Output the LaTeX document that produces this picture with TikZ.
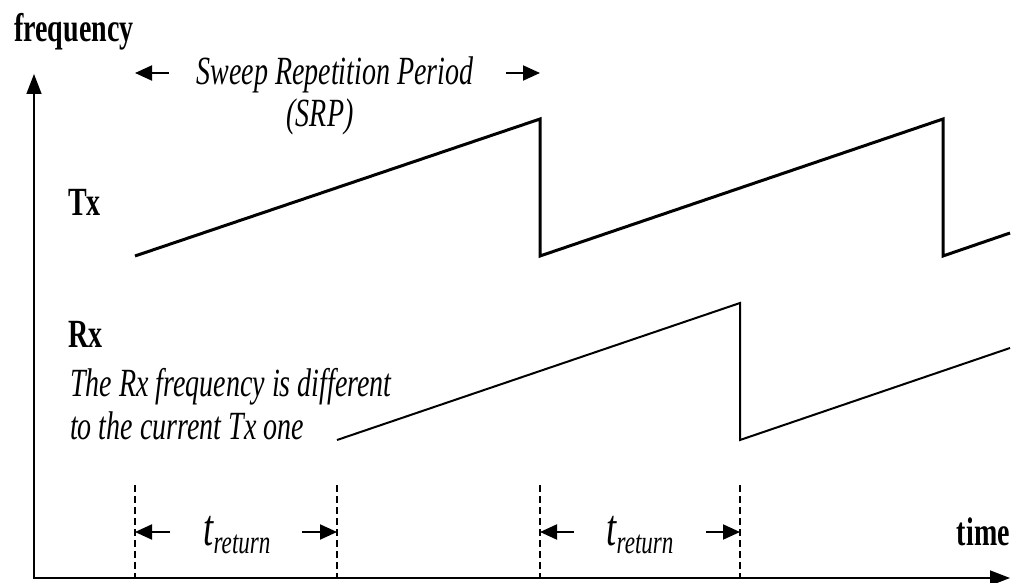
\documentclass[tikz,border=0pt]{standalone}
\usepackage{fontspec}
\setmainfont{Liberation Serif}[FakeStretch=0.7]
\usetikzlibrary{arrows.meta}

\begin{document}
\begin{tikzpicture}[x=1pt,y=-1pt,
  tx/.style={line width=3pt},
  rx/.style={line width=2pt},
  guide/.style={line width=1.5pt,dash pattern=on 7pt off 4pt},
  span/.style={line width=2pt,-{Triangle[length=17pt,width=15pt]}},
  lbl/.style={font=\fontsize{40}{44}\selectfont\bfseries,inner sep=0pt},
  note/.style={font=\fontsize{40}{44}\selectfont\itshape,inner sep=0pt}]
\useasboundingbox (0,0) rectangle (1014,583);

\coordinate (ytip) at (34,74);
\coordinate (xtip) at (1010,578);
\draw[line width=1.5pt,{Triangle[length=20pt,width=15pt]}-{Triangle[length=20pt,width=15pt]}] (ytip) |- (xtip);

\node[lbl,anchor=base west] (freq) at (14,42) {frequency};
\node[lbl,anchor=base east] (time) at (1010,545) {time};
\node[lbl,anchor=base west] (txlbl) at (68,215) {Tx};
\node[lbl,anchor=base west] (rxlbl) at (68,347) {Rx};
\node[note,anchor=base west] (rxnote1) at (70,396) {The Rx frequency is different};
\node[note,anchor=base west] (rxnote2) at (70,439) {to the current Tx one};
\node[note,anchor=base] (srp1) at (335,85) {Sweep Repetition Period};
\node[note,anchor=base] (srp2) at (320,127) {(SRP)};

\draw[tx] (135,256) -- (540,119) -- (540,256) -- (943,119) -- (943,256) -- (1010,233);
\draw[rx] (337,440) -- (740,303) -- (740,440) -- (1010,348);

\foreach \x in {135,337,540,740}
  \draw[guide] (\x,485) -- (\x,578);

\coordinate (srpL) at (135,73);
\coordinate (srpR) at (540,73);
\draw[span] (169,73) -- (srpL);
\draw[span] (506,73) -- (srpR);

\draw[span] (170,532) -- (135,532);
\draw[span] (302,532) -- (337,532);
\draw[span] (574,532) -- (540,532);
\draw[span] (706,532) -- (740,532);
\node[note,anchor=base] (tret1) at (237,545) {{\fontsize{52}{52}\selectfont t}\raisebox{-8pt}{\fontsize{33}{33}\selectfont return}};
\node[note,anchor=base] (tret2) at (640,545) {{\fontsize{52}{52}\selectfont t}\raisebox{-8pt}{\fontsize{33}{33}\selectfont return}};
\end{tikzpicture}
\end{document}
